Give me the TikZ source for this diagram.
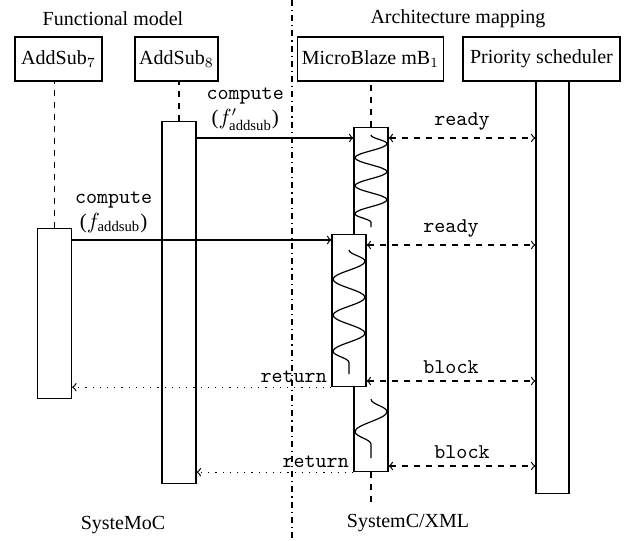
\documentclass[tikz,border=0pt]{standalone}
\usepackage{amsmath}
\usepackage{fontspec}
\setmainfont{Liberation Serif}
\usetikzlibrary{decorations.pathmorphing}

\begin{document}
\begin{tikzpicture}[x=0.5pt,y=-0.5pt,line width=0.6pt,
	head/.style={draw,minimum height=22pt,inner sep=2pt},
	act/.style={draw,fill=white,minimum width=17pt,inner sep=0pt,anchor=north},
	life/.style={dashed},
	call/.style={->},
	sig/.style={<->,dashed},
	ret/.style={->,dash pattern=on 0.6pt off 3pt},
	wave/.style={decorate,decoration={snake,amplitude=8pt,segment length=#1}},
	msg/.style={align=center,font=\fontsize{10.5}{12.5}\selectfont}]
	\useasboundingbox (0,0) rectangle (629,541);
	\draw[dashdotted] (292,0) -- (292,541);
	\node (fm) at (113,19) {Functional model};
	\node (am) at (458,19) {Architecture mapping};
	\node (sm) at (123,525) {SysteMoC};
	\node (sx) at (408,523) {SystemC/XML};
	\node[head,minimum width=43.5pt] (a7) at (58.5,59) {AddSub$_7$};
	\node[head,minimum width=41.5pt] (a8) at (176.5,59) {AddSub$_8$};
	\node[head,minimum width=72.5pt] (mb) at (370.5,59) {MicroBlaze mB$_1$};
	\node[head,minimum width=78.5pt] (ps) at (541.5,59) {Priority scheduler};
	\node[act,minimum height=85pt] (a7act) at (54.5,228) {};
	\node[act,minimum height=181pt] (a8act) at (179,121) {};
	\node[act,minimum height=172pt] (mb1act) at (371,127) {};
	\node[act,minimum height=76pt] (mb2act) at (349,234) {};
	\node[act,minimum height=206pt,minimum width=16.5pt] (psact) at (552.5,81) {};
	\coordinate (mbend) at (371,503);
	\coordinate (r1) at (0,138);
	\coordinate (r2) at (0,240);
	\coordinate (r3) at (0,245);
	\coordinate (r4) at (0,381);
	\coordinate (r5) at (0,466);
	\draw[life] (a7act.north) -- (a7act.north |- a7.south);
	\draw[life] (a8act.north) -- (a8act.north |- a8.south);
	\draw[life] (mb1act.north) -- (mb1act.north |- mb.south);
	\draw[life] (mb1act.south) -- (mbend);
	\draw[wave=14pt] ([yshift=-4pt]mb1act.north) -- ([yshift=-50pt]mb1act.north);
	\draw[wave=18pt] ([yshift=-8pt]mb2act.north) -- ([yshift=6.5pt]mb2act.south);
	\draw[wave=20pt] ([yshift=36.5pt]mb1act.south) -- ([yshift=7pt]mb1act.south);
	\draw[call] (a8act.east |- r1) -- node[msg,above,pos=0.31] {\texttt{compute}\\($f'_{\text{addsub}}$)} (mb1act.west |- r1);
	\draw[call] (a7act.east |- r2) -- node[msg,above,pos=0.16] {\texttt{compute}\\($f_{\text{addsub}}$)} (mb2act.west |- r2);
	\draw[sig] (mb1act.east |- r1) -- node[msg,above] {\texttt{ready}} (psact.west |- r1);
	\draw[sig] (mb2act.east |- r3) -- node[msg,above] {\texttt{ready}} (psact.west |- r3);
	\draw[ret] (mb2act.south west) -- node[msg,pos=0,anchor=south east,inner sep=2pt] {\texttt{return}} (a7act.east |- mb2act.south);
	\draw[sig] (mb2act.east |- r4) -- node[msg,above] {\texttt{block}} (psact.west |- r4);
	\draw[ret] (mb1act.south west) -- node[msg,pos=0,anchor=south east,inner sep=2pt] {\texttt{return}} (a8act.east |- mb1act.south);
	\draw[sig] (mb1act.east |- r5) -- node[msg,above] {\texttt{block}} (psact.west |- r5);
\end{tikzpicture}
\end{document}
